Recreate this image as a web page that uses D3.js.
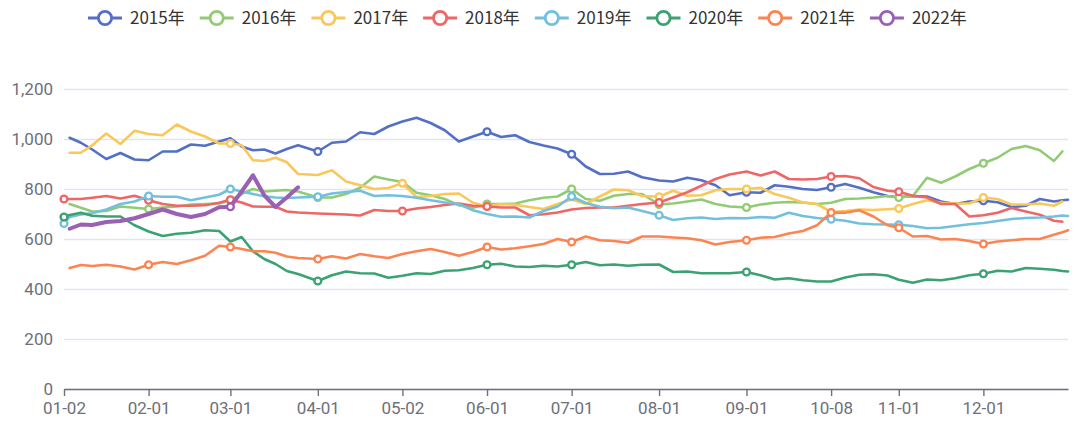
<!DOCTYPE html>
<html>
<head>
<meta charset="utf-8">
<script src="https://cdn.jsdelivr.net/npm/d3@7"></script>
<style>
  body { margin: 0; background: #fff; }
  svg { display: block; font-family: "Noto Sans CJK SC", "Noto Sans", sans-serif; }
</style>
</head>
<body>
<div id="chart"></div>
<script>
// legend names and colours
const years = ["2015年", "2016年", "2017年", "2018年", "2019年", "2020年", "2021年", "2022年"];
const colors = ["#5470c6", "#91cc75", "#fac858", "#ee6666", "#73c0de", "#3ba272", "#fc8452", "#9a60b4"];

// category axis: calendar days (MM-DD), minus days closed in every year
const monthLengths = [31, 29, 31, 30, 31, 30, 31, 31, 30, 31, 30, 31];
const skippedDays = ["01-01", "05-01", "10-01", "10-02", "10-03", "10-04", "10-05", "10-06", "10-07"];
const tickLabels = ["01-02", "02-01", "03-01", "04-01", "05-02", "06-01", "07-01", "08-01", "09-01", "10-08", "11-01", "12-01"];
const yTicks = [0, 200, 400, 600, 800, 1000, 1200];

const sampleDays = [
  "01-02", "01-04", "01-08", "01-12", "01-17", "01-22", "01-27",
  "02-01", "02-06", "02-11", "02-16", "02-21", "02-26",
  "03-01", "03-05", "03-09", "03-13", "03-17", "03-21", "03-25",
  "04-01", "04-06", "04-11", "04-16", "04-21", "04-26",
  "05-02", "05-07", "05-12", "05-17", "05-22", "05-27",
  "06-01", "06-06", "06-11", "06-16", "06-21", "06-26",
  "07-01", "07-06", "07-11", "07-16", "07-21", "07-26",
  "08-01", "08-06", "08-11", "08-16", "08-21", "08-26",
  "09-01", "09-06", "09-11", "09-16", "09-21", "09-26",
  "10-08", "10-13", "10-18", "10-23", "10-28",
  "11-01", "11-06", "11-11", "11-16", "11-21", "11-26",
  "12-01", "12-06", "12-11", "12-16", "12-21", "12-26", "12-29", "12-31"
];

const v2015 = [
  null, 1005, 985, 958, 920, 944, 918,
  915, 950, 950, 978, 973, 990,
  1003, 970, 955, 958, 942, 960, 975,
  950, 985, 990, 1027, 1020, 1050,
  1070, 1085, 1064, 1035, 990, 1010,
  1029, 1008, 1015, 988, 974, 962,
  939, 890, 860, 861, 870, 847,
  834, 830, 845, 835, 815, 775,
  787, 785, 815, 809, 800, 796,
  807, 820, 805, 787, 772,
  767, 772, 770, 750, 740, 750,
  753, 747, 728, 733, 760, 750, 755, 757
];
const v2016 = [
  null, 740, 725, 710, 712, 730, 725,
  720, 726, 730, 738, 740, 742,
  755, 780, 800, 790, 793, 796, 790,
  766, 766, 780, 805, 850, 838,
  828, 785, 775, 760, 735, 725,
  740, 740, 742, 755, 765, 770,
  800, 760, 753, 773, 780, 780,
  738, 742, 750, 758, 740, 730,
  726, 738, 745, 748, 746, 740,
  745, 760, 762, 766, 772,
  766, 772, 845, 825, 850, 880,
  903, 925, 960, 972, 955, 912, 950, null
];
const v2017 = [
  null, 945, 945, 975, 1022, 980, 1033,
  1020, 1015, 1058, 1030, 1010, 982,
  982, 975, 915, 912, 925, 907, 860,
  856, 875, 830, 815, 800, 804,
  823, 768, 772, 780, 782, 745,
  730, 740, 737, 728, 720, 740,
  758, 740, 770, 798, 795, 772,
  769, 793, 773, 775, 795, 800,
  800, 805, 780, 765, 746, 740,
  708, 712, 718, 716, 719,
  722, 740, 755, 745, 742, 742,
  766, 760, 738, 738, 742, 733, 750, null
];
const v2018 = [
  760, 760, 760, 765, 772, 762, 773,
  755, 740, 733, 733, 735, 745,
  757, 746, 730, 729, 729, 710, 706,
  702, 700, 698, 694, 716, 712,
  712, 722, 728, 736, 742, 733,
  730, 726, 726, 695, 699, 706,
  718, 724, 726, 726, 733, 740,
  746, 766, 787, 813, 840, 858,
  870, 854, 870, 840, 838, 840,
  850, 852, 843, 808, 793,
  789, 773, 766, 740, 740, 690,
  695, 705, 724, 710, 697, 673, 669, null
];
const v2019 = [
  662, 688, 698, 703, 718, 740, 750,
  772, 769, 769, 755, 766, 777,
  800, 790, 780, 771, 766, 764, 766,
  769, 782, 788, 793, 772, 775,
  772, 765, 755, 746, 740, 715,
  700, 689, 690, 686, 712, 730,
  770, 744, 729, 723, 726, 712,
  695, 676, 683, 686, 680, 684,
  683, 688, 685, 705, 692, 684,
  679, 673, 662, 659, 658,
  657, 652, 643, 645, 652, 659,
  664, 672, 680, 684, 686, 690, 694, 692
];
const v2020 = [
  688, 696, 705, 693, 690, 690, 655,
  630, 612, 621, 625, 635, 632,
  590, 608, 551, 520, 500, 472, 460,
  432, 455, 470, 463, 462, 445,
  453, 463, 460, 473, 475, 484,
  497, 501, 490, 488, 493, 490,
  497, 508, 495, 498, 493, 497,
  498, 468, 470, 463, 463, 463,
  468, 455, 438, 443, 435, 430,
  430, 446, 457, 459, 454,
  437, 425, 438, 435, 443, 455,
  461, 473, 470, 484, 481, 477, 472, 470
];
const v2021 = [
  null, 484, 496, 492, 497, 490, 478,
  497, 508, 500, 515, 533, 573,
  568, 560, 551, 551, 545, 530, 524,
  520, 531, 522, 540, 531, 524,
  540, 551, 560, 548, 533, 548,
  568, 558, 563, 571, 580, 600,
  588, 610, 595, 592, 585, 610,
  610, 606, 603, 595, 578, 588,
  595, 605, 608, 622, 632, 655,
  706, 705, 715, 690, 655,
  645, 610, 612, 598, 600, 592,
  580, 590, 595, 600, 600, 617, 627, 635
];
const v2022 = [
  null, 641, 658, 656, 668, 672, 683,
  700, 718, 700, 688, 700, 727,
  729, 790, 855, 775, 728, 766, 807,
  null, null, null, null, null, null,
  null, null, null, null, null, null,
  null, null, null, null, null, null,
  null, null, null, null, null, null,
  null, null, null, null, null, null,
  null, null, null, null, null, null,
  null, null, null, null, null,
  null, null, null, null, null, null,
  null, null, null, null, null, null, null, null
];
const seriesValues = [v2015, v2016, v2017, v2018, v2019, v2020, v2021, v2022];

// label days on which each year shows a symbol
const markerDays = [
  ["04-01", "06-01", "07-01", "09-01", "10-08", "12-01"],
  ["02-01", "03-01", "04-01", "06-01", "07-01", "08-01", "09-01", "11-01", "12-01"],
  ["03-01", "05-02", "06-01", "08-01", "09-01", "11-01", "12-01"],
  ["01-02", "02-01", "03-01", "05-02", "06-01", "08-01", "10-08", "11-01"],
  ["01-02", "02-01", "03-01", "04-01", "07-01", "08-01", "10-08", "11-01"],
  ["01-02", "04-01", "06-01", "07-01", "09-01", "12-01"],
  ["02-01", "03-01", "04-01", "06-01", "07-01", "09-01", "10-08", "11-01", "12-01"],
  ["03-01"]
];

const pad = n => String(n).padStart(2, "0");
const categories = [];
monthLengths.forEach((len, m) => {
  for (let d = 1; d <= len; d++) {
    const key = pad(m + 1) + "-" + pad(d);
    if (!skippedDays.includes(key)) categories.push(key);
  }
});

const width = 1080, height = 423;
const plotLeft = 64, plotRight = 1068, plotTop = 89, plotBottom = 389;
const axisFont = "Roboto, 'Noto Sans', sans-serif";

const svg = d3.select("#chart").append("svg")
  .attr("width", width)
  .attr("height", height);

const x = d3.scalePoint().domain(categories).range([plotLeft, plotRight]);
const y = d3.scaleLinear().domain([0, 1200]).range([plotBottom, plotTop]);

// y grid + labels
const yAxis = svg.append("g")
  .attr("transform", `translate(${plotLeft},0)`)
  .call(d3.axisLeft(y).tickValues(yTicks).tickFormat(d3.format(","))
    .tickSize(-(plotRight - plotLeft)).tickPadding(11));
yAxis.select(".domain").remove();
yAxis.selectAll(".tick line").attr("stroke", "#E0E6F1").attr("stroke-width", 1.3);
yAxis.selectAll(".tick text").attr("fill", "#6E7079").attr("dy", "0.3em")
  .style("font-size", "17px").style("font-family", axisFont);

// x axis
const xAxis = svg.append("g")
  .attr("transform", `translate(0,${plotBottom})`)
  .call(d3.axisBottom(x).tickValues(tickLabels).tickSize(7).tickSizeOuter(0).tickPadding(6));
xAxis.select(".domain").attr("stroke", "#6E7079").attr("stroke-width", 1.4);
xAxis.selectAll(".tick line").attr("stroke", "#6E7079").attr("stroke-width", 1.4);
xAxis.selectAll(".tick text").attr("fill", "#6E7079")
  .style("font-size", "17px").style("font-family", axisFont);

// lines
const line = d3.line()
  .defined(d => d.v != null)
  .x(d => x(d.day))
  .y(d => y(d.v));

seriesValues.forEach((vals, i) => {
  const pts = sampleDays.map((day, k) => ({ day, v: vals[k] }));
  const g = svg.append("g");
  g.append("path")
    .datum(pts)
    .attr("fill", "none")
    .attr("stroke", colors[i])
    .attr("stroke-width", i === 7 ? 4 : 2.6)
    .attr("stroke-linejoin", "round")
    .attr("stroke-linecap", "round")
    .attr("d", line);
  const marks = markerDays[i]
    .map(day => ({ day, v: vals[sampleDays.indexOf(day)] }))
    .filter(d => d.v != null);
  g.selectAll("circle").data(marks).enter().append("circle")
    .attr("cx", d => x(d.day))
    .attr("cy", d => y(d.v))
    .attr("r", 3.4)
    .attr("fill", "#fff")
    .attr("stroke", colors[i])
    .attr("stroke-width", 2.4);
});

// legend
const legend = svg.append("g").attr("transform", "translate(88,18)");
const items = legend.selectAll("g").data(years).enter().append("g")
  .attr("transform", (d, i) => `translate(${i * 111.7},0)`);
items.append("line")
  .attr("x1", 0).attr("x2", 34).attr("y1", 0).attr("y2", 0)
  .attr("stroke", (d, i) => colors[i]).attr("stroke-width", 2.8);
items.append("circle")
  .attr("cx", 17).attr("cy", 0).attr("r", 6.6)
  .attr("fill", "#fff")
  .attr("stroke", (d, i) => colors[i]).attr("stroke-width", 2.8);
items.append("text")
  .attr("x", 42).attr("y", 0).attr("dy", "0.35em")
  .attr("fill", "#333")
  .style("font-size", "17px")
  .text(d => d);
</script>
</body>
</html>
